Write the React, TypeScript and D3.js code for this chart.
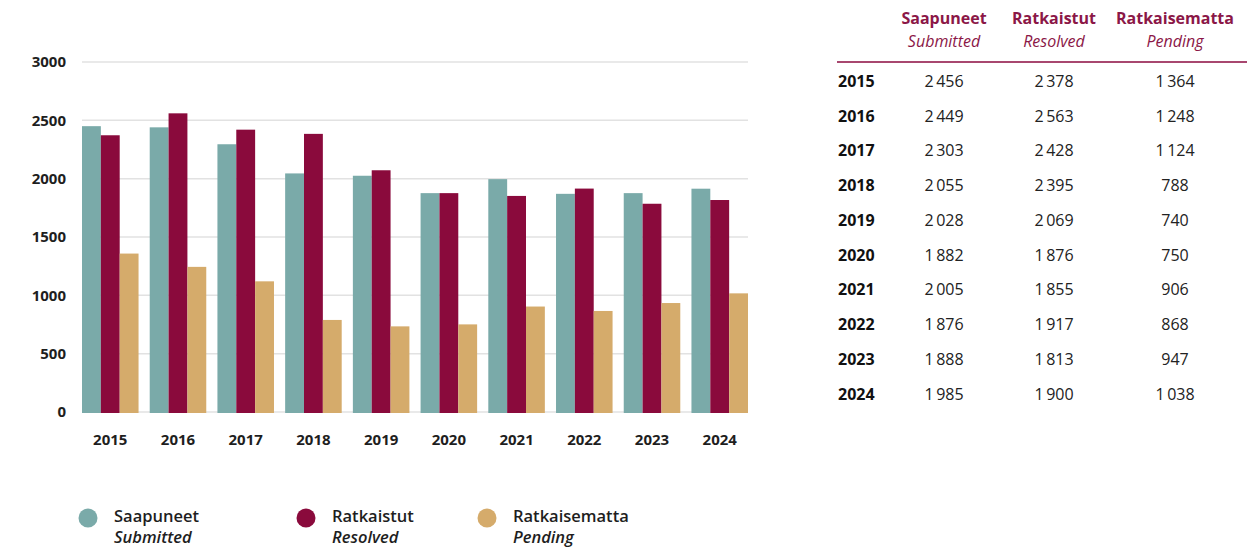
import React, { useEffect, useRef } from "react";
import * as d3 from "d3";

// bar heights as drawn in the chart
const years = ["2015", "2016", "2017", "2018", "2019", "2020", "2021", "2022", "2023", "2024"];
const submitted = [2450, 2440, 2295, 2045, 2025, 1876, 1996, 1870, 1876, 1914];
const resolved = [2372, 2560, 2420, 2384, 2072, 1876, 1852, 1915, 1785, 1817];
const pending = [1358, 1244, 1120, 789, 734, 751, 904, 866, 934, 1017];

// numbers printed in the table
const tableSubmitted = [2456, 2449, 2303, 2055, 2028, 1882, 2005, 1876, 1888, 1985];
const tableResolved = [2378, 2563, 2428, 2395, 2069, 1876, 1855, 1917, 1813, 1900];
const tablePending = [1364, 1248, 1124, 788, 740, 750, 906, 868, 947, 1038];

const yTicks = [0, 500, 1000, 1500, 2000, 2500, 3000];

const series = [
  { key: "s", fi: "Saapuneet", en: "Submitted", color: "#7aaaa9", values: submitted, table: tableSubmitted },
  { key: "r", fi: "Ratkaistut", en: "Resolved", color: "#8a0a3c", values: resolved, table: tableResolved },
  { key: "p", fi: "Ratkaisematta", en: "Pending", color: "#d5ab6b", values: pending, table: tablePending },
];

const FONT = "'Open Sans', 'Noto Sans', sans-serif";
const HEAD = "#8b1747";

// 2 456 style with thin space
function fmt(v: number) {
  const s = String(v);
  if (s.length < 4) return s;
  return s.slice(0, s.length - 3) + "\u2009" + s.slice(s.length - 3);
}

export default function App() {
  const ref = useRef<SVGSVGElement | null>(null);

  useEffect(() => {
    const svg = d3.select(ref.current);
    svg.selectAll("*").remove();

    const x = d3.scaleBand<string>().domain(years).range([82, 748]).paddingInner(0.165).paddingOuter(0);
    const xi = d3.scaleBand<string>().domain(series.map(s => s.key)).range([0, x.bandwidth()]);
    const y = d3.scaleLinear().domain([0, 3000]).range([412, 62]);

    const chart = svg.append("g");

    chart.selectAll(".grid").data(yTicks).join("line")
      .attr("class", "grid")
      .attr("x1", 82).attr("x2", 748)
      .attr("y1", d => y(d)).attr("y2", d => y(d))
      .attr("stroke", "#e2e2e2").attr("stroke-width", 1.5);

    chart.selectAll(".ylab").data(yTicks).join("text")
      .attr("class", "ylab")
      .attr("x", 66).attr("y", d => y(d))
      .attr("dy", "0.36em")
      .attr("text-anchor", "end")
      .attr("font-family", FONT).attr("font-size", 15).attr("font-weight", 700)
      .attr("fill", "#1e1e1e")
      .text(d => d);

    series.forEach(s => {
      chart.append("g").selectAll("rect").data(years).join("rect")
        .attr("x", d => (x(d) as number) + (xi(s.key) as number))
        .attr("width", xi.bandwidth())
        .attr("y", (d, i) => y(s.values[i]))
        .attr("height", (d, i) => y(0) - y(s.values[i]) + 1)
        .attr("fill", s.color);
    });

    chart.selectAll(".xlab").data(years).join("text")
      .attr("class", "xlab")
      .attr("x", d => (x(d) as number) + x.bandwidth() / 2)
      .attr("y", 440).attr("dy", "0.36em")
      .attr("text-anchor", "middle")
      .attr("font-family", FONT).attr("font-size", 15).attr("font-weight", 700)
      .attr("fill", "#1e1e1e")
      .text(d => d);

    // legend
    const legX = [88, 306, 487];
    const leg = svg.append("g").selectAll("g").data(series).join("g")
      .attr("transform", (d, i) => `translate(${legX[i]}, 518)`);
    leg.append("circle").attr("r", 9.5).attr("fill", d => d.color);
    leg.append("text").attr("x", 26).attr("y", 4)
      .attr("font-family", FONT).attr("font-size", 16.5).attr("font-weight", 600)
      .attr("fill", "#1e1e1e").text(d => d.fi);
    leg.append("text").attr("x", 26).attr("y", 25)
      .attr("font-family", FONT).attr("font-size", 16.5).attr("font-weight", 600)
      .attr("font-style", "italic")
      .attr("fill", "#1e1e1e").text(d => d.en);

    // table
    const colX = [944, 1054, 1175];
    const table = svg.append("g");
    series.forEach((s, c) => {
      table.append("text").attr("x", colX[c]).attr("y", 24)
        .attr("text-anchor", "middle")
        .attr("font-family", FONT).attr("font-size", 16).attr("font-weight", 700)
        .attr("fill", HEAD).text(s.fi);
      table.append("text").attr("x", colX[c]).attr("y", 47)
        .attr("text-anchor", "middle")
        .attr("font-family", FONT).attr("font-size", 16).attr("font-style", "italic")
        .attr("fill", HEAD).text(s.en);
    });
    table.append("line")
      .attr("x1", 837).attr("x2", 1247).attr("y1", 62).attr("y2", 62)
      .attr("stroke", "#a8476f").attr("stroke-width", 2);

    const rowY = d3.scalePoint<string>().domain(years).range([81, 394]);
    const rows = table.selectAll(".row").data(years).join("g")
      .attr("class", "row")
      .attr("transform", d => `translate(0, ${rowY(d)})`);
    rows.append("text").attr("x", 838).attr("dy", "0.36em")
      .attr("font-family", FONT).attr("font-size", 16).attr("font-weight", 700)
      .attr("fill", "#111").text(d => d);
    series.forEach((s, c) => {
      rows.append("text").attr("x", colX[c]).attr("dy", "0.36em")
        .attr("text-anchor", "middle")
        .attr("font-family", FONT).attr("font-size", 16)
        .attr("fill", "#222").text((d, i) => fmt(s.table[i]));
    });
  }, []);

  return (
    <svg ref={ref} width={1259} height={550}
      style={{ position: "absolute", left: 0, top: 0, background: "#fff" }} />
  );
}
